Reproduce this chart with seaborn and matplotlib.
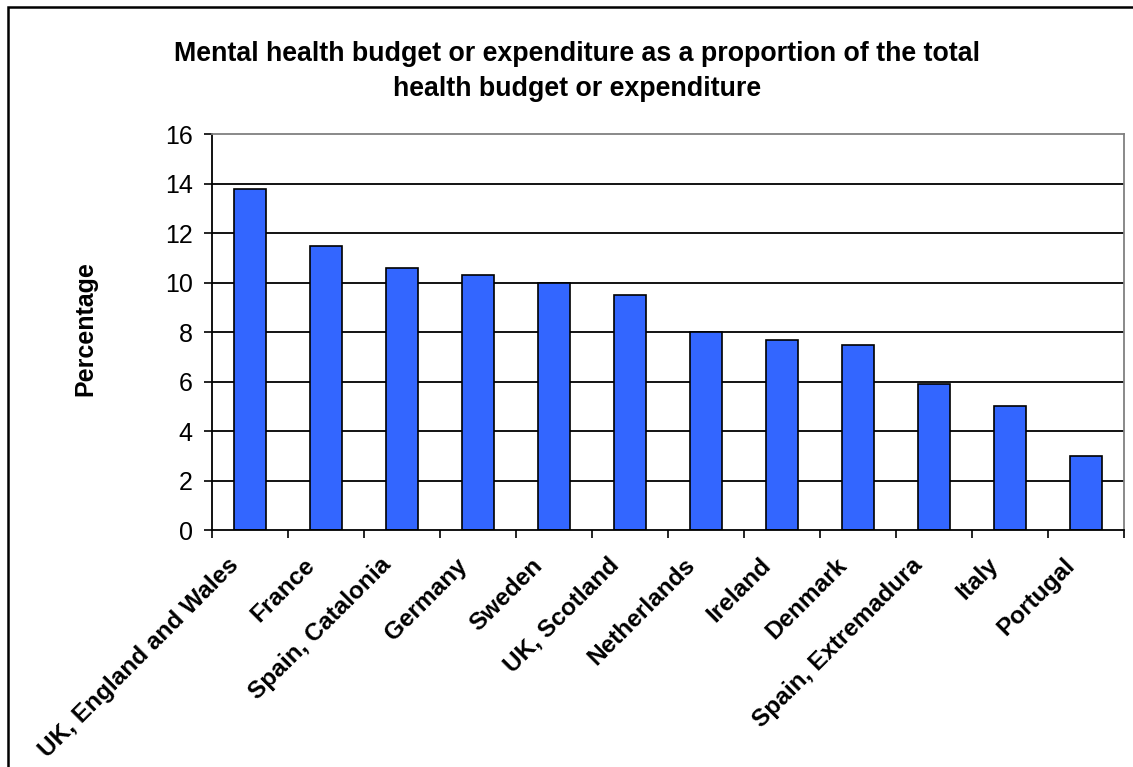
import matplotlib
matplotlib.use("Agg")
import matplotlib.pyplot as plt
import matplotlib.transforms as mtransforms
from matplotlib.patches import Rectangle
import seaborn as sns
import pandas as pd

categories = ["UK, England and Wales", "France", "Spain, Catalonia", "Germany", "Sweden",
              "UK, Scotland", "Netherlands", "Ireland", "Denmark", "Spain, Extremadura",
              "Italy", "Portugal"]
values = [13.8, 11.5, 10.6, 10.3, 10.0, 9.5, 8.0, 7.7, 7.5, 5.9, 5.0, 3.0]
yticks = [0, 2, 4, 6, 8, 10, 12, 14, 16]
title = "Mental health budget or expenditure as a proportion of the total\nhealth budget or expenditure"
ylabel = "Percentage"

sns.set_style("white")
plt.rcParams["font.family"] = ["Liberation Sans", "DejaVu Sans"]
plt.rcParams["text.color"] = "black"
plt.rcParams["axes.labelcolor"] = "black"
plt.rcParams["xtick.color"] = "black"
plt.rcParams["ytick.color"] = "black"

df = pd.DataFrame({"cat": categories, "val": values})

W, H = 1133, 767
fig = plt.figure(figsize=(W / 100, H / 100), dpi=100)
ax = fig.add_axes([212 / W, 1 - 530 / H, (1124 - 212) / W, (530 - 134.3) / H])

sns.barplot(data=df, x="cat", y="val", order=categories, color="#3366FF",
            edgecolor="black", linewidth=1.2, width=0.41, saturation=1, ax=ax)

n = len(categories)
ax.set_xlim(-0.5, n - 0.5)
ax.set_ylim(yticks[0], yticks[-1])
ax.set_yticks(yticks)
ax.set_yticklabels([str(t) for t in yticks], fontsize=18)

# x ticks at category boundaries, labels at centers
ax.set_xticks([i - 0.5 for i in range(n + 1)])
ax.set_xticklabels([])
ax.set_xticks(range(n), minor=True)
ax.set_xticklabels(categories, minor=True, rotation=45, ha="right", va="top",
                   rotation_mode="anchor", fontsize=17.6, fontweight="bold")
ax.tick_params(axis="x", which="minor", length=0, pad=17)
offset = mtransforms.ScaledTranslation(-23 / 100, 0, fig.dpi_scale_trans)
for lab in ax.get_xticklabels(minor=True):
    lab.set_transform(lab.get_transform() + offset)
ax.tick_params(axis="x", which="major", direction="out", length=6, width=1.2, color="black")
ax.tick_params(axis="y", direction="out", length=6, width=1.2, color="black", pad=8)
ax.xaxis.set_ticks_position("bottom")
ax.yaxis.set_ticks_position("left")

ax.set_xlabel("")
ax.set_ylabel(ylabel, fontsize=18, fontweight="bold")
ax.yaxis.set_label_coords((97 - 212) / (1124 - 212), 0.51)

ax.yaxis.grid(True, color="black", linewidth=1.3)
ax.set_axisbelow(True)
gl = ax.yaxis.get_gridlines()
gl[-1].set_visible(False)
gl[0].set_visible(False)

for s in ["left", "bottom"]:
    ax.spines[s].set_color("black")
    ax.spines[s].set_linewidth(1.3)
for s in ["top", "right"]:
    ax.spines[s].set_color("#808080")
    ax.spines[s].set_linewidth(1.3)
    ax.spines[s].set_visible(True)

fig.text(577 / W, 1 - 71.5 / H, title, ha="center", va="center", fontsize=19.3,
         fontweight="bold", linespacing=1.45)

fig.patches.append(Rectangle((8 / W, -0.1), 1.2, 1.1 - 7 / H,
                             transform=fig.transFigure, fill=False,
                             edgecolor="black", linewidth=1.8))

fig.savefig("out.png", dpi=100)
